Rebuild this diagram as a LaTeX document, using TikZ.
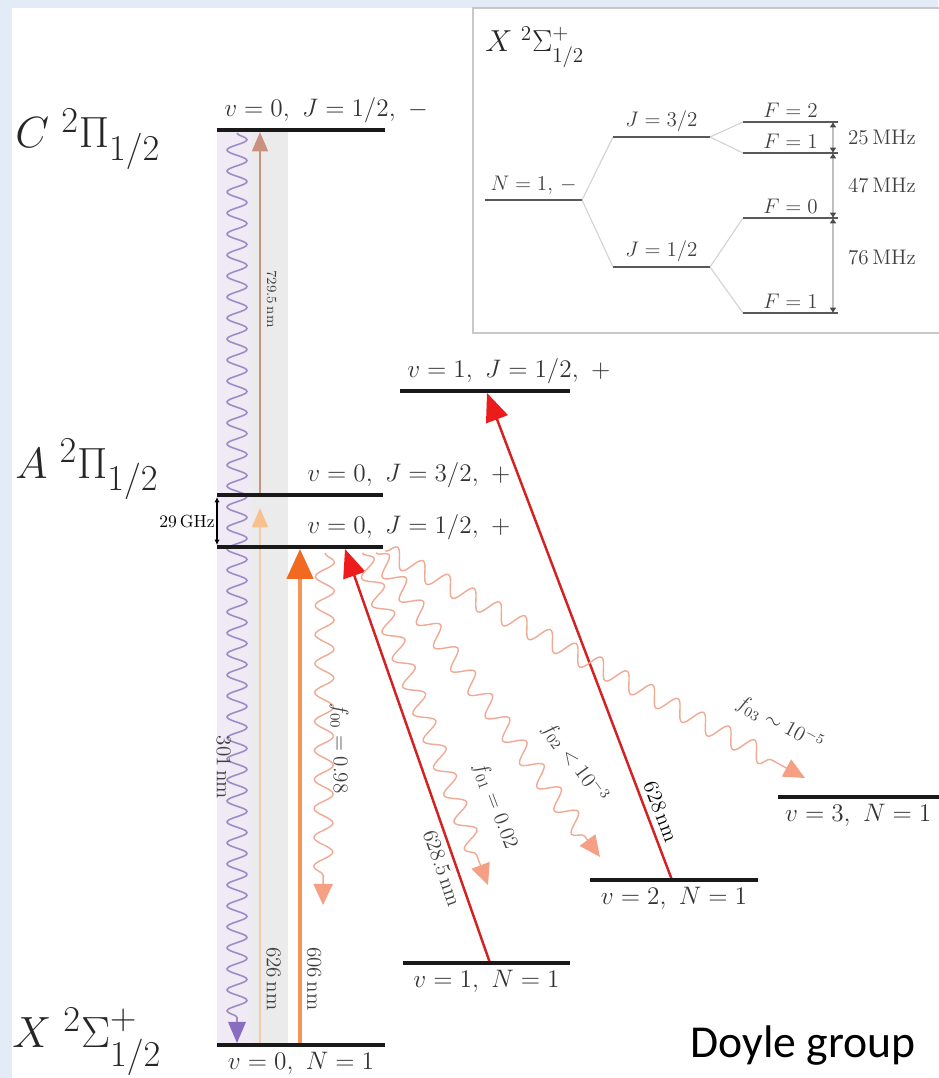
\documentclass[tikz,border=0pt]{standalone}
\usepackage{amsmath,amssymb}
\usepackage{fontspec}
\newfontfamily\creditfont{Carlito}
\usetikzlibrary{arrows.meta,positioning,decorations.pathmorphing}

\definecolor{slideblue}{HTML}{E3EBF6}
\definecolor{bandlav}{HTML}{EFEAF4}
\definecolor{bandgray}{HTML}{EBEBEB}
\definecolor{wavepurple}{HTML}{9E8CC6}
\definecolor{tippurple}{HTML}{8A6CC0}
\definecolor{cpink}{HTML}{C99280}
\definecolor{pale}{HTML}{F6C9A8}
\definecolor{paletip}{HTML}{F8C08E}
\definecolor{orng}{HTML}{F29556}
\definecolor{orngtip}{HTML}{F26A22}
\definecolor{redline}{HTML}{D42222}
\definecolor{redtip}{HTML}{EC1C1C}
\definecolor{salmon}{HTML}{F0AA94}
\definecolor{salmontip}{HTML}{F5A085}
\definecolor{boxgray}{HTML}{C8C8C8}

\begin{document}
\begin{tikzpicture}[x=0.02cm, y=-0.02cm,
    level/.style={line width=2.3pt, black!90},
    hfs/.style={line width=1.6pt, black!65},
    branch/.style={line width=0.6pt, black!18},
    lvl/.style={font=\Large, text=black!80, inner sep=3pt},
    hfslbl/.style={font=\large, text=black!75, inner sep=2pt},
    state/.style={font=\Huge, text=black!85, inner sep=0pt},
    vlab/.style={font=\large, text=black!75, inner sep=3pt},
    pump/.style={line width=2pt, orng, -{Triangle[length=17pt, width=15pt, color=orngtip]}},
    repump/.style={line width=1.4pt, redline, -{Triangle[length=16pt, width=13pt, color=redtip]}},
    decay/.style={salmon, line width=0.8pt, -{Triangle[length=12pt, width=11pt, color=salmontip]},
                  decorate, decoration={snake, amplitude=0.19cm, segment length=0.58cm, post length=0.5cm}},
    spacing/.style={line width=1.2pt, black!25, {Latex[length=3pt, width=4pt, color=black!70]}-{Latex[length=3pt, width=4pt, color=black!70]}},
  ]

  \useasboundingbox (0,0) rectangle (938,1078);
  \fill[slideblue] (0,0) rectangle (938,1078);
  \fill[white] (12,8) rectangle (938,1078);

  % level end points
  \coordinate (c0L) at (217,130);   \coordinate (c0R) at (385,130);
  \coordinate (a32L) at (217,495);  \coordinate (a32R) at (383,495);
  \coordinate (a12L) at (217,547);  \coordinate (a12R) at (383,547);
  \coordinate (a1L) at (400,391);   \coordinate (a1R) at (570,391);
  \coordinate (x0L) at (217,1045);  \coordinate (x0R) at (385,1045);
  \coordinate (x1L) at (403,963);   \coordinate (x1R) at (570,963);
  \coordinate (x2L) at (590,880);   \coordinate (x2R) at (758,880);
  \coordinate (x3L) at (778,797);   \coordinate (x3R) at (945,797);

  % shaded bands behind the cycling transitions
  \fill[bandlav] (217,130) rectangle (252,1045);
  \fill[bandgray] (252,130) rectangle (288,1045);

  % state labels
  \node[state, anchor=base west] (cstate) at (15,148) {$C\;{}^2\Pi_{1/2}$};
  \node[state, anchor=base west] (astate) at (15,478) {$A\;{}^2\Pi_{1/2}$};
  \node[state, anchor=base west] (xstate) at (12,1047) {$X\;{}^2\Sigma^+_{1/2}$};

  % transition end points
  \coordinate (pw0) at (237,133);  \coordinate (pw1) at (237,1043);
  \coordinate (p7a) at (260,495);  \coordinate (p7b) at (260,132);
  \coordinate (p6a) at (260,1043); \coordinate (p6b) at (260,508);
  \coordinate (o6a) at (300,1043); \coordinate (o6b) at (300,549);
  \coordinate (r1a) at (490,963);  \coordinate (r1b) at (345,549);
  \coordinate (r2a) at (672,880);  \coordinate (r2b) at (487,393);
  \coordinate (d0a) at (325,553);  \coordinate (d0b) at (323,905);
  \coordinate (d1a) at (362,553);  \coordinate (d1b) at (488,885);
  \coordinate (d2a) at (376,553);  \coordinate (d2b) at (600,857);
  \coordinate (d3a) at (385,551);  \coordinate (d3b) at (805,778);
  \coordinate (g1) at (217,497);   \coordinate (g2) at (217,545);

  % C -> X decay
  \draw[wavepurple, line width=0.9pt, -{Triangle[length=12pt, width=10pt, color=tippurple]},
        decorate, decoration={snake, amplitude=0.2cm, segment length=0.42cm, post length=0.5cm}]
    (pw0) -- node[vlab, pos=0.67, rotate=-90, below=14pt] (l301) {301\,nm} (pw1);

  % X -> A -> C
  \draw[line width=1.2pt, pale, -{Triangle[length=11pt, width=9pt, color=paletip]}]
    (p6a) -- node[vlab, pos=0.12, rotate=-90, above] (l626) {626\,nm} (p6b);
  \draw[line width=1.2pt, cpink, -{Triangle[length=11pt, width=9pt, color=cpink]}]
    (p7a) -- node[font=\footnotesize, text=black!75, pos=0.54, rotate=-90, above] (l729) {729.5\,nm} (p7b);

  % main cycling and repump lasers
  \draw[pump] (o6a) -- node[vlab, pos=0.13, rotate=-90, above] (l606) {606\,nm} (o6b);
  \draw[repump] (r1a) -- node[vlab, pos=0.24, sloped, below] (l6285) {628.5\,nm} (r1b);
  \draw[repump] (r2a) -- node[vlab, pos=0.13, sloped, above, text=black] (l628) {628\,nm} (r2b);

  % spontaneous decays from A
  \draw[decay] (d0a) -- node[vlab, pos=0.62, rotate=-90, above=13pt] (f00) {$f_{00}=0.98$} (d0b);
  \draw[decay] (d1a) -- node[vlab, pos=0.8, sloped, above=11pt] (f01) {$f_{01}=0.02$} (d1b);
  \draw[decay] (d2a) -- node[vlab, pos=0.76, sloped, above=11pt] (f02) {$f_{02}<10^{-3}$} (d2b);
  \draw[decay] (d3a) -- node[vlab, pos=0.9, sloped, above=11pt] (f03) {$f_{03}\sim10^{-5}$} (d3b);

  % levels
  \draw[level] (c0L) -- node[lvl, pos=0, above right] (c0lab) {$v=0,\ J=1/2,\ -$} (c0R);
  \draw[level] (a32L) -- node[lvl, pos=0.5, above right] (a32lab) {$v=0,\ J=3/2,\ +$} (a32R);
  \draw[level] (a12L) -- node[lvl, pos=0.5, above right] (a12lab) {$v=0,\ J=1/2,\ +$} (a12R);
  \draw[level] (a1L) -- node[lvl, pos=0, above right] (a1lab) {$v=1,\ J=1/2,\ +$} (a1R);
  \draw[level] (x0L) -- node[lvl, midway, below] (x0lab) {$v=0,\ N=1$} (x0R);
  \draw[level] (x1L) -- node[lvl, midway, below] (x1lab) {$v=1,\ N=1$} (x1R);
  \draw[level] (x2L) -- node[lvl, midway, below] (x2lab) {$v=2,\ N=1$} (x2R);
  \draw[level] (x3L) -- node[lvl, pos=0.48, below] (x3lab) {$v=3,\ N=1$} (x3R);

  % A state splitting
  \draw[line width=0.6pt, {Latex[length=3pt, width=3pt]}-{Latex[length=3pt, width=3pt]}]
    (g1) -- node[left, font=\normalsize, inner sep=1pt] (ghz) {29\,GHz} (g2);

  % inset: hyperfine structure of X(N=1)
  \draw[boxgray, line width=1.1pt] (473,8) rectangle (948,333);
  \node[font=\LARGE, text=black!85, anchor=base west, inner sep=0pt] (xinset) at (485,52) {$X\;{}^2\Sigma^+_{1/2}$};

  \coordinate (nL) at (485,200);    \coordinate (nR) at (582,200);
  \coordinate (j32L) at (613,137);  \coordinate (j32R) at (710,137);
  \coordinate (j12L) at (613,267);  \coordinate (j12R) at (710,267);
  \coordinate (f2L) at (743,122);   \coordinate (f2R) at (838,122);
  \coordinate (f1uL) at (743,153);  \coordinate (f1uR) at (838,153);
  \coordinate (f0L) at (743,218);   \coordinate (f0R) at (838,218);
  \coordinate (f1lL) at (743,313);  \coordinate (f1lR) at (838,313);

  \draw[branch] (nR) -- (j32L);
  \draw[branch] (nR) -- (j12L);
  \draw[branch] (j32R) -- (f2L);
  \draw[branch] (j32R) -- (f1uL);
  \draw[branch] (j12R) -- (f0L);
  \draw[branch] (j12R) -- (f1lL);

  \draw[hfs] (nL) -- node[hfslbl, midway, above] (nlab) {$N=1,\,-$} (nR);
  \draw[hfs] (j32L) -- node[hfslbl, midway, above] (j32lab) {$J=3/2$} (j32R);
  \draw[hfs] (j12L) -- node[hfslbl, midway, above] (j12lab) {$J=1/2$} (j12R);
  \draw[hfs] (f2L) -- node[hfslbl, midway, above] (f2lab) {$F=2$} (f2R);
  \draw[hfs] (f1uL) -- node[hfslbl, midway, above] (f1ulab) {$F=1$} (f1uR);
  \draw[hfs] (f0L) -- node[hfslbl, midway, above] (f0lab) {$F=0$} (f0R);
  \draw[hfs] (f1lL) -- node[hfslbl, midway, above] (f1llab) {$F=1$} (f1lR);

  \coordinate (s1) at (833,122); \coordinate (s2) at (833,153);
  \coordinate (s3) at (833,218); \coordinate (s4) at (833,313);
  \draw[spacing] (s1) -- node[hfslbl, right=6pt] (mhz25) {25\,MHz} (s2);
  \draw[spacing] (s2) -- node[hfslbl, right=6pt] (mhz47) {47\,MHz} (s3);
  \draw[spacing] (s3) -- node[hfslbl, right=6pt, pos=0.42] (mhz76) {76\,MHz} (s4);

  % credit
  \node[font=\creditfont\fontsize{26}{30}\selectfont, anchor=base, inner sep=0pt] (credit) at (803,1057) {Doyle group};
\end{tikzpicture}
\end{document}
